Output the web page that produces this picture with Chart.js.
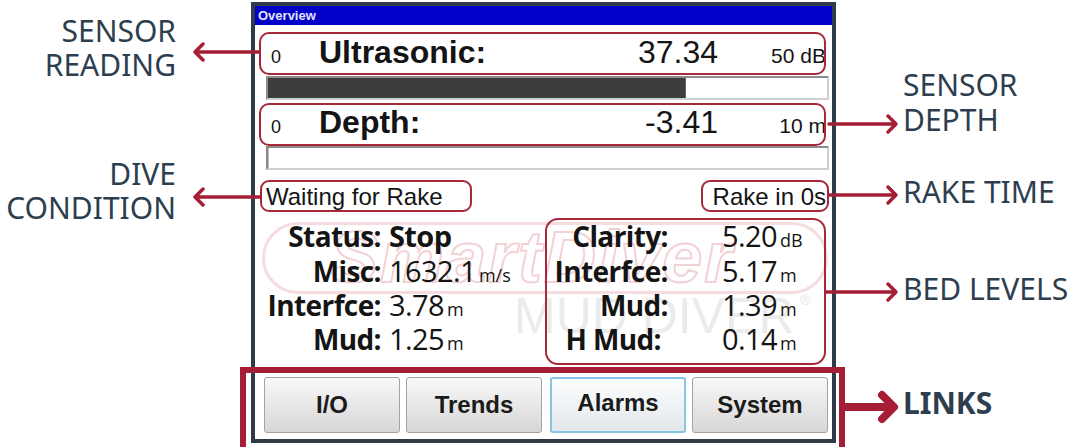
<!DOCTYPE html>
<html>
<head>
<meta charset="utf-8">
<title>Overview</title>
<script src="https://cdn.jsdelivr.net/npm/chart.js@4.4.0/dist/chart.umd.min.js"></script>
<style>
html, body { margin: 0; padding: 0; background: #fff; }
#stage { position: relative; width: 1086px; height: 447px; overflow: hidden; font-family: "Liberation Sans", Arial, sans-serif; }
.abs { position: absolute; white-space: nowrap; line-height: 1; }
.frame { position: absolute; left: 251px; top: 2px; width: 577px; height: 433px; border: 4px solid #2f3c48; background: #fff; }
.titlebar { position: absolute; left: 255px; top: 6px; width: 577px; height: 19px; background: #0000c8; }
.rbox { position: absolute; border: 2px solid #a8283b; border-radius: 10px; }
.track { position: absolute; border: 2px solid; border-color: #8c8c8c #cfcfcf #cfcfcf #8c8c8c; background: #fff; box-sizing: border-box; }
.track canvas { display: block; }
.btn { position: absolute; top: 377px; height: 56px; box-sizing: border-box; border: 1px solid #a3a3a3; border-radius: 3px;
       background: linear-gradient(#f8f8f8, #e6e6e6 55%, #d6d6d6); font: bold 24px "Liberation Sans", Arial, sans-serif;
       color: #1b1b1b; text-align: center; line-height: 54px; }
.btn.sel { border: 2px solid #85c6e6; background: linear-gradient(#fcfdfe, #eef2f4 55%, #e2e7ea); line-height: 48px; }
#links { position: absolute; left: 240px; top: 367px; width: 593px; height: 74px; border: 6px solid #a51e36; }
svg { position: absolute; left: 0; top: 0; }
</style>
</head>
<body>
<div id="stage">
  <div class="frame"></div>
  <div class="titlebar"></div>
</div>
<script>
// readings shown on the panel
const gaugeNames = ['Ultrasonic:', 'Depth:'];
const gaugeValues = [37.34, -3.41];
const gaugeMin = [0, 0];
const gaugeMax = [50, 10];
const gaugeUnits = ['dB', 'm'];

const statusLabels = ['Status:', 'Misc:', 'Interfce:', 'Mud:'];
const statusValues = ['Stop', '1632.1', '3.78', '1.25'];
const statusUnits = ['', 'm/s', 'm', 'm'];

const bedLabels = ['Clarity:', 'Interfce:', 'Mud:', 'H Mud:'];
const bedValues = ['5.20', '5.17', '1.39', '0.14'];
const bedUnits = ['dB', 'm', 'm', 'm'];

const diveCondition = 'Waiting for Rake';
const rakeTime = 'Rake in 0s';
const linkButtons = ['I/O', 'Trends', 'Alarms', 'System'];

const leftNotes = [['SENSOR', 'READING'], ['DIVE', 'CONDITION']];
const rightNotes = [['SENSOR', 'DEPTH'], ['RAKE TIME'], ['BED LEVELS'], ['LINKS']];

var stage = document.getElementById('stage');

// baseline offset (fraction of font size) for line-height:1
var BASE = { 'Liberation Sans': 0.847, 'Noto Sans': 0.888, 'Open Sans': 0.888 };

function text(str, x, baseline, font, size, opts) {
  opts = opts || {};
  var d = document.createElement('div');
  d.className = 'abs';
  d.textContent = str;
  d.style.fontFamily = '"' + font + '"';
  d.style.fontSize = size + 'px';
  d.style.fontWeight = opts.bold ? 'bold' : 'normal';
  d.style.color = opts.color || '#141414';
  if (opts.italic) d.style.fontStyle = 'italic';
  d.style.top = (baseline - BASE[font] * size) + 'px';
  if (opts.right) d.style.right = (1086 - x) + 'px';
  else d.style.left = x + 'px';
  if (opts.css) Object.assign(d.style, opts.css);
  stage.appendChild(d);
  return d;
}

function box(cls, x, y, w, h, extra) {
  var d = document.createElement('div');
  d.className = cls;
  d.style.left = x + 'px';
  d.style.top = y + 'px';
  d.style.width = w + 'px';
  d.style.height = h + 'px';
  if (extra) Object.assign(d.style, extra);
  stage.appendChild(d);
  return d;
}

text('Overview', 258, 20, 'Liberation Sans', 13, { bold: true, color: '#e4e4ff' });

// watermark
box('abs', 262, 222, 560, 66, { border: '3px solid #f6dcdf', borderRadius: '40px' });
text('SmartDiver', 330, 282, 'Liberation Sans', 72, { bold: true, italic: true, color: 'transparent',
  css: { webkitTextStroke: '2px #f3d2d6', letterSpacing: '2px' } });
text('MUD DIVER', 514, 333, 'Liberation Sans', 50, { color: '#ebebeb' });
text('\u00ae', 800, 305, 'Liberation Sans', 14, { color: '#e4e4e4' });

// gauges: label row + bar drawn by Chart.js
var trackY = [76, 146];
var textBase = [63, 133];
gaugeNames.forEach(function(name, i) {
  text(String(gaugeMin[i]), 271, textBase[i], 'Liberation Sans', 18);
  text(name, 319, textBase[i], 'Liberation Sans', 32, { bold: true });
  text(gaugeValues[i].toFixed(2), 718, textBase[i], 'Liberation Sans', 32, { right: true });
  text(gaugeMax[i] + ' ' + gaugeUnits[i], 826, textBase[i], 'Liberation Sans', 21, { right: true });

  var t = box('track', 266, trackY[i], 563, 24);
  var c = document.createElement('canvas');
  t.appendChild(c);
  c.style.width = '559px';
  c.style.height = '20px';

  new Chart(c, {
    type: 'bar',
    data: {
      labels: [name],
      datasets: [{ data: [gaugeValues[i]], backgroundColor: '#3d3d3d', borderWidth: 0,
                   barPercentage: 1, categoryPercentage: 1 }]
    },
    options: {
      indexAxis: 'y',
      responsive: false,
      animation: false,
      layout: { padding: 0 },
      plugins: { legend: { display: false }, tooltip: { enabled: false } },
      scales: {
        x: { display: false, min: gaugeMin[i], max: gaugeMax[i] },
        y: { display: false }
      }
    }
  });
});

// condition strings
text(diveCondition, 266, 205, 'Liberation Sans', 24);
text(rakeTime, 826, 205, 'Liberation Sans', 24, { right: true });

// status block, labels right aligned at the colon
var rowBase = [247, 282, 316, 350];
statusLabels.forEach(function(lbl, i) {
  text(lbl, 381, rowBase[i], 'Open Sans', 28, { bold: true, right: true, css: { letterSpacing: '-0.6px' } });
  var v = text(statusValues[i], 389, rowBase[i], 'Open Sans', 29, { bold: i === 0, css: { letterSpacing: '-0.6px' } });
  if (statusUnits[i]) {
    var w = v.getBoundingClientRect().width;
    text(statusUnits[i], 389 + w + 3, rowBase[i], 'Open Sans', 18);
  }
});

// bed levels
bedLabels.forEach(function(lbl, i) {
  text(lbl, i === 3 ? 661 : 668, rowBase[i], 'Open Sans', 28, { bold: true, right: true, css: { letterSpacing: '-0.6px' } });
  var v = text(bedValues[i], 722, rowBase[i], 'Open Sans', 29, { css: { letterSpacing: '-0.6px' } });
  var w = v.getBoundingClientRect().width;
  text(bedUnits[i], 722 + w + 3, rowBase[i], 'Open Sans', 18);
});

// buttons
var btnX = [264, 406, 550, 692];
linkButtons.forEach(function(b, i) {
  var d = box('btn' + (b === 'Alarms' ? ' sel' : ''), btnX[i], 377, 136, 56);
  d.style.height = '56px';
  d.textContent = b;
});

// annotation outlines
box('rbox', 259, 32, 563, 39);
box('rbox', 259, 103, 563, 39);
box('rbox', 260, 180, 208, 28, { borderRadius: '9px' });
box('rbox', 701, 180, 124, 28, { borderRadius: '9px' });
box('rbox', 545, 218, 277, 143, { borderRadius: '13px' });
var links = document.createElement('div');
links.id = 'links';
stage.appendChild(links);

// annotation labels
var leftBase = [[43, 77], [186, 220]];
leftNotes.forEach(function(lines, i) {
  lines.forEach(function(s, j) {
    text(s, 176, leftBase[i][j], 'Noto Sans', 30, { right: true, color: '#2d3e4f' });
  });
});
var rightBase = [[97, 132], [204], [301], [415]];
rightNotes.forEach(function(lines, i) {
  lines.forEach(function(s, j) {
    text(s, 903, rightBase[i][j], 'Noto Sans', 30, { color: '#2d3e4f', bold: s === 'LINKS' });
  });
});

// arrows
var NS = 'http://www.w3.org/2000/svg';
var svg = document.createElementNS(NS, 'svg');
svg.setAttribute('width', 1086);
svg.setAttribute('height', 447);
stage.appendChild(svg);
function arrow(x1, x2, y, w, head) {
  var dir = x2 > x1 ? 1 : -1;
  var p = document.createElementNS(NS, 'path');
  p.setAttribute('d', 'M' + x1 + ' ' + y + ' L' + (x2 - dir * w * 0.6) + ' ' + y +
    ' M' + (x2 - dir * head) + ' ' + (y - head) + ' L' + x2 + ' ' + y + ' L' + (x2 - dir * head) + ' ' + (y + head));
  p.setAttribute('stroke', '#a51e36');
  p.setAttribute('stroke-width', w);
  p.setAttribute('fill', 'none');
  p.setAttribute('stroke-linecap', 'round');
  p.setAttribute('stroke-linejoin', 'round');
  svg.appendChild(p);
}
arrow(259, 195, 52, 3.5, 8);
arrow(260, 195, 197, 3.5, 8);
arrow(829, 896, 124, 3.5, 8);
arrow(829, 896, 195, 3.5, 8);
arrow(826, 896, 292, 3.5, 8);
arrow(846, 894, 407, 8, 12);
</script>
</body>
</html>
